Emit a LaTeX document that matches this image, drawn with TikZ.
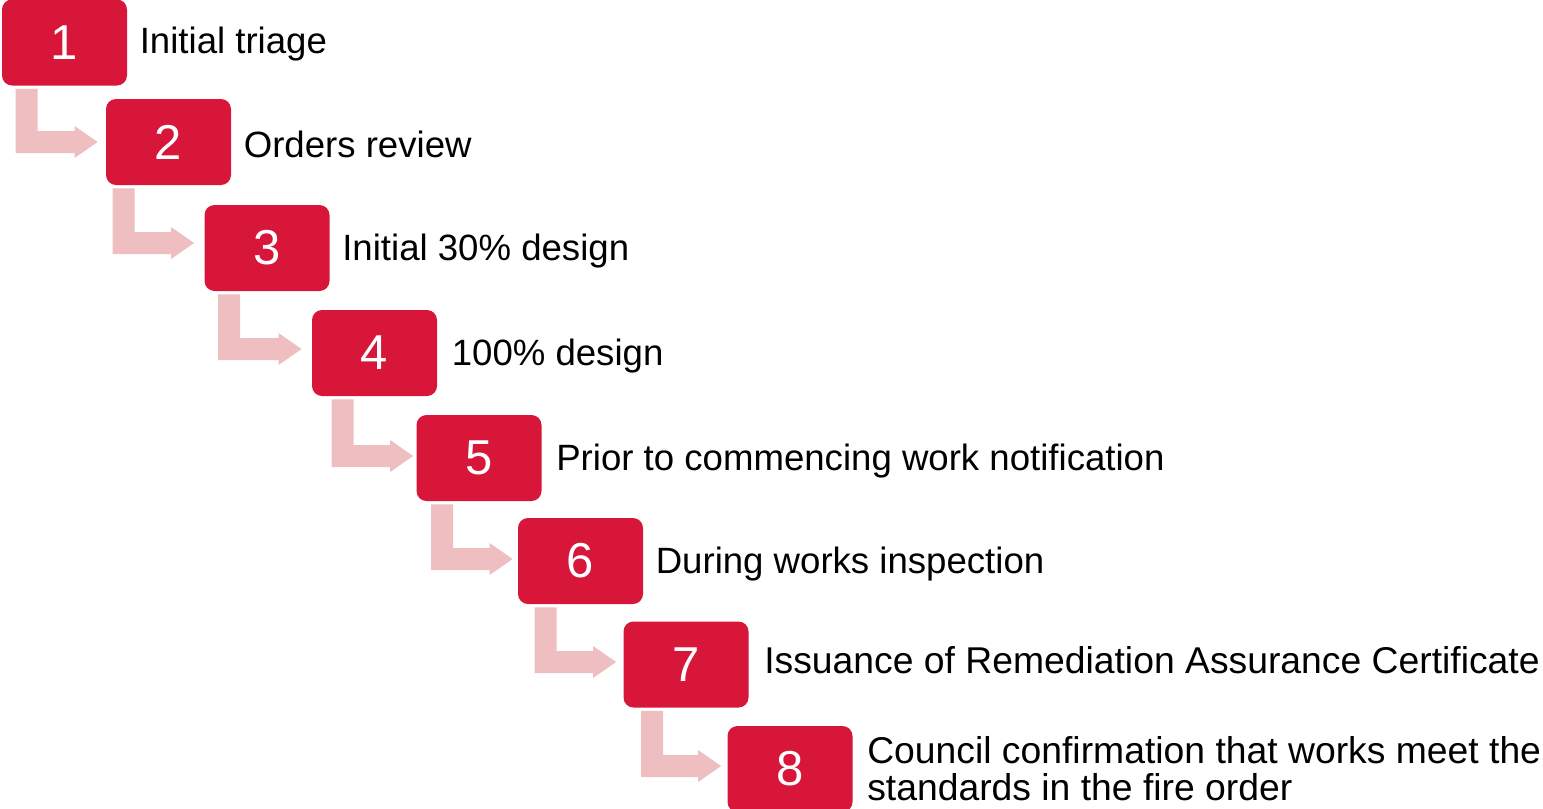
\documentclass[tikz,border=0pt]{standalone}
\usepackage{fontspec}
\setmainfont{Liberation Sans}
\usetikzlibrary{calc}
\definecolor{boxred}{RGB}{215,22,58}
\definecolor{arrpink}{RGB}{238,190,193}
\begin{document}
\begin{tikzpicture}[x=0.5pt,y=-0.5pt,
  stepbox/.style={fill=boxred, rounded corners=5pt, minimum width=62.5pt, minimum height=43pt, inner sep=0pt, text=white, font=\fontsize{24.5pt}{28pt}\selectfont},
  steptext/.style={anchor=west, inner sep=0pt, text=black, font=\fontsize{18.3pt}{18.5pt}\selectfont, align=left},
  widetext/.style={steptext, font=\fontsize{18.65pt}{18.5pt}\selectfont},
  bentarrow/.style={fill=arrpink}]
\useasboundingbox (0,0) rectangle (1543,809);
\node[stepbox] (b1) at (64.5,42.5) {1};
\node[stepbox] (b2) at (168.5,142) {2};
\node[stepbox] (b3) at (267,248) {3};
\node[stepbox] (b4) at (374.5,353) {4};
\node[stepbox] (b5) at (479,458) {5};
\node[stepbox] (b6) at (580.5,561) {6};
\node[stepbox] (b7) at (686,664.5) {7};
\node[stepbox] (b8) at (790,769) {8};
\node[steptext] (t1) at ($(b1.east)+(12,2)$) {Initial triage};
\node[steptext] (t2) at ($(b2.east)+(12,2)$) {Orders review};
\node[steptext] (t3) at ($(b3.east)+(12,3)$) {Initial 30\% design};
\node[steptext] (t4) at ($(b4.east)+(14,3)$) {100\% design};
\node[steptext] (t5) at ($(b5.east)+(14,3)$) {Prior to commencing work notification};
\node[steptext] (t6) at ($(b6.east)+(12,3)$) {During works inspection};
\node[widetext] (t7) at ($(b7.east)+(15,-4)$) {Issuance of Remediation Assurance Certificate};
\node[widetext] (t8) at ($(b8.east)+(14,0)$) {Council confirmation that works meet the\\standards in the fire order};
% a/b/stem offset from box a's left/gap between tip and box b/shaft offset from box b's centre
\foreach \a/\b/\so/\tg/\dy in {1/2/14/8/0,2/3/7/10/-5,3/4/14/10/-4,4/5/20/3/-2,5/6/15/5/-2,6/7/17/7/-2.5,7/8/18/6/-3}{
  \coordinate (s\a) at ($(b\a.south west)+(\so,3)$);
  \coordinate (m\b) at ($(b\b.west)+(-\tg,\dy)$);
  \coordinate (e\b) at ($(m\b)+(0,11)$);
  \fill[bentarrow] (s\a) -- ++(22,0) |- ($(m\b)+(-23,-11)$) -- ++(0,-5)
    -- (m\b) -- ($(m\b)+(-23,16)$) -- ++(0,-5)
    -- (s\a |- e\b) -- cycle;
}
\end{tikzpicture}
\end{document}
